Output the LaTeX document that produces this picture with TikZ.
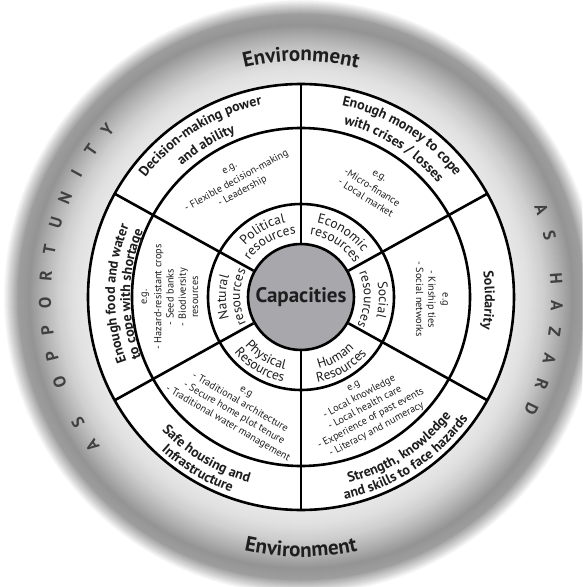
\documentclass[tikz,border=0pt]{standalone}
\usepackage{fontspec}
\setmainfont{PT Sans}
\usetikzlibrary{decorations.text}
\definecolor{ink}{RGB}{30,30,30}
\definecolor{hubgray}{RGB}{168,168,172}

\newcommand\pxfont[1]{\fontsize{#1}{#1}\selectfont}
\newcommand\outerfont{\pxfont{14}\bfseries\color{ink}}
\newcommand\resfont{\pxfont{13.5}\color{ink}}
\newcommand\envfont{\pxfont{21}\bfseries\color{ink}}
% text set along a circular arc around the centre
\newcommand\ringlabel[5]{%
  \path[decorate,decoration={text along path,text align=center,text={|#4|#5}}]
    (#2:#1) arc[start angle=#2,end angle=#3,radius=#1];}

\begin{document}
\begin{tikzpicture}[x=1pt,y=1pt,
  rim/.style={line width=2.6pt,draw=black},
  egtext/.style={font=\fontsize{10.3}{12.3}\selectfont,text=ink,align=center,inner sep=0pt},
  spaced/.style={font=\pxfont{17}\bfseries,text=ink!85,inner sep=0pt},
]
\path[use as bounding box] (-301,-290) rectangle (281,297);
\clip (-301,-290) rectangle (281,297);
\fill[white] (-301,-290) rectangle (281,297);

% soft grey halo around the wheel
\foreach \ra/\ga/\rb/\gb in {292/16/298/0,283/38/292/16,272/42/283/38,258/30/272/42,243/19/258/30,228/12/243/19,212/9/228/12}{
  \pgfmathtruncatemacro\n{\rb-\ra}
  \foreach \k in {0,...,\n}{
    \pgfmathsetmacro\rr{\rb-\k}
    \pgfmathsetmacro\gg{\gb+(\ga-\gb)*\k/\n}
    \fill[black!\gg] (0,0) circle (\rr);
  }
}

% the wheel
\fill[white] (0,0) circle (213);
\draw[rim] (0,0) circle (213);
\draw[rim] (0,0) circle (169);
\draw[rim] (0,0) circle (93);
\node[circle,rim,fill=hubgray,minimum size=106,inner sep=0pt,
      font=\pxfont{21}\bfseries,text=ink] (hub) at (0,0) {Capacities};
\foreach \a in {90,29,-29,-90,209,151}
  \draw[rim] (hub.\a) -- (\a:213);

% outer ring: what the capacities give
\ringlabel{196}{172}{72}{\outerfont}{Decision-making power}
\ringlabel{177}{172}{72}{\outerfont}{and ability}
\ringlabel{196}{108}{8}{\outerfont}{Enough money to cope}
\ringlabel{178}{108}{8}{\outerfont}{with crises / losses}
\ringlabel{184}{49}{-51}{\outerfont}{Solidarity}
\ringlabel{192}{-107}{-7}{\outerfont}{Strength, knowledge}
\ringlabel{207}{-107}{-7}{\outerfont}{and skills to face hazards}
\ringlabel{192.5}{189}{289}{\outerfont}{Safe housing and}
\ringlabel{207.5}{189}{289}{\outerfont}{Infrastructure}
\ringlabel{186}{229}{129}{\outerfont}{Enough food and water}
\ringlabel{171}{229}{129}{\outerfont}{to cope with shortage}

% inner ring: kinds of resources
\ringlabel{76}{169.5}{69.5}{\resfont}{Political}
\ringlabel{63}{169.5}{69.5}{\resfont}{resources}
\ringlabel{76}{107}{7}{\resfont}{Economic}
\ringlabel{63}{107}{7}{\resfont}{resources}
\ringlabel{78}{48}{-52}{\resfont}{Social}
\ringlabel{63}{48}{-52}{\resfont}{resources}
\ringlabel{74}{-110}{-10}{\resfont}{Human}
\ringlabel{87}{-110}{-10}{\resfont}{Resources}
\ringlabel{74}{189}{289}{\resfont}{Physical}
\ringlabel{87}{189}{289}{\resfont}{Resources}
\ringlabel{75}{230}{130}{\resfont}{Natural}
\ringlabel{61}{230}{130}{\resfont}{resources}

% middle ring: examples
\node[egtext,rotate=29] (eg-pol) at (119:133)
  {e.g.\\[2pt]- Flexible decision-making\\- Leadership};
\node[egtext,rotate=-32] (eg-eco) at (57:131)
  {e.g.\\[2pt]-Micro-finance\\- Local market};
\node[egtext,rotate=-90] (eg-soc) at (-1:131)
  {e.g\\[2pt]- Kinship ties\\- Social networks};
\node[egtext,rotate=28] (eg-hum) at (-60:129)
  {e.g\\- Local knowledge\\- Local health care\\- Experience of past events\\- Literacy and numeracy};
\node[egtext,rotate=-30] (eg-phy) at (240:129)
  {e.g\\- Traditional architecture\\- Secure home plot tenure\\- Traditional water management};
\node[egtext,rotate=90] (eg-nat) at (180:131)
  {e.g.\\[2pt]- Hazard-resistant crops\\- Seed banks\\- Biodiversity\\resources};

% halo lettering
\ringlabel{236}{140}{40}{\envfont}{Environment}
\ringlabel{260}{220}{320}{\envfont}{Environment}
\foreach \a/\c [count=\i] in {215.4/A,209.4/S,199.4/O,193.4/P,187.4/P,181.3/O,175.3/R,169.3/T,163.2/U,157.2/N,151.2/I,145.1/T,139.1/Y}
  \node[spaced,rotate=\a-90] (opp-\i) at (\a:256) {\c};
\foreach \a/\c [count=\i] in {20/A,14/S,4.2/H,-1.9/A,-7.9/Z,-13.9/A,-19.9/R,-25.9/D}
  \node[spaced,rotate=\a-90] (haz-\i) at (\a:256) {\c};
\end{tikzpicture}
\end{document}
